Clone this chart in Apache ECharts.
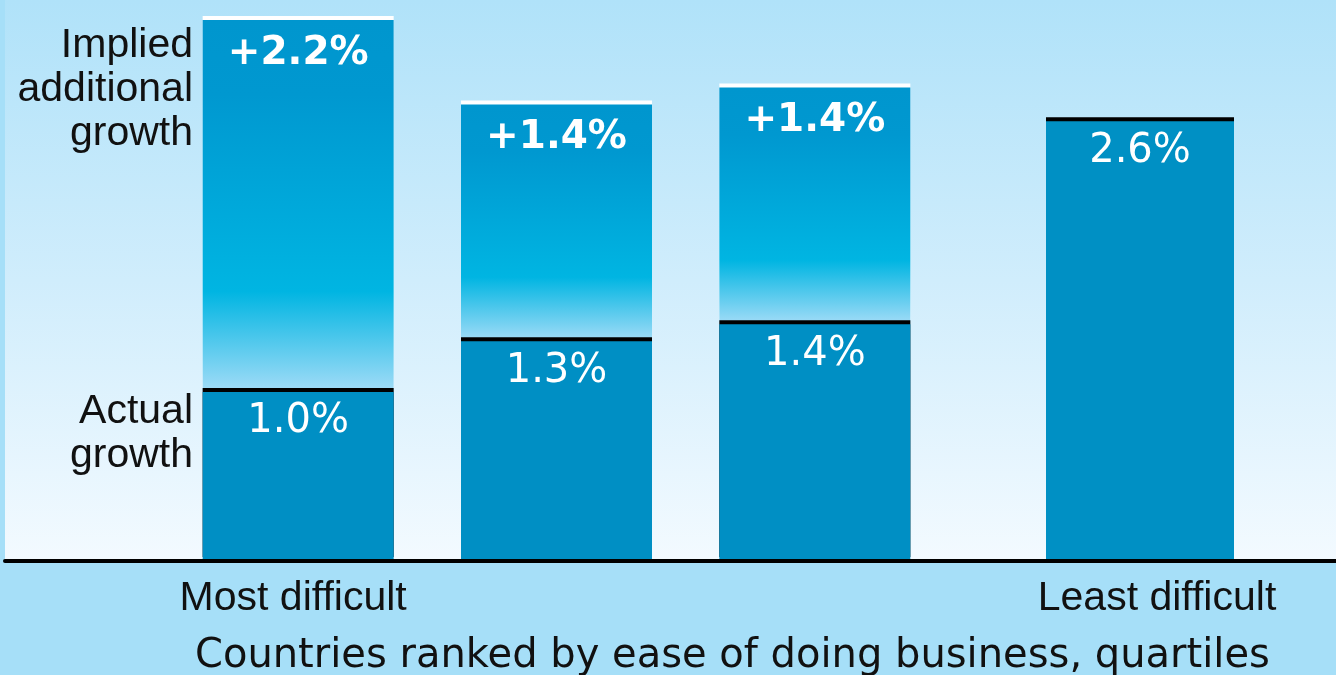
<!DOCTYPE html>
<html>
<head>
<meta charset="utf-8">
<script src="https://cdn.jsdelivr.net/npm/echarts@6/dist/echarts.min.js"></script>
<style>
html, body { margin: 0; padding: 0; background: #a6dff8; }
#chart { width: 1336px; height: 675px; }
</style>
</head>
<body>
<div id="chart"></div>
<script>
// quartiles, most difficult -> least difficult
var categories = ['Most difficult', '', '', 'Least difficult'];
var actualGrowth = [1.0, 1.3, 1.4, 2.6];
var impliedGrowth = [2.2, 1.4, 1.4];
var actualLabels = ['1.0%', '1.3%', '1.4%', '2.6%'];
var impliedLabels = ['+2.2%', '+1.4%', '+1.4%'];
var axisTitle = 'Countries ranked by ease of doing business, quartiles';

var echart = echarts.init(document.getElementById('chart'));

var impliedColor = new echarts.graphic.LinearGradient(0, 0, 0, 1, [
    {offset: 0, color: '#0096ce'},
    {offset: 0.2, color: '#0098d0'},
    {offset: 0.73, color: '#00b5e2'},
    {offset: 1, color: '#a2dcf7'}
]);

var plotBg = new echarts.graphic.LinearGradient(0, 0, 0, 1, [
    {offset: 0, color: '#b0e2f9'},
    {offset: 0.5, color: '#d0edfc'},
    {offset: 1, color: '#f3faff'}
]);

var numFont = 'DejaVu Sans';
var txtFont = 'Liberation Sans';

function yAx(i) {
    return {gridIndex: i, type: 'value', min: 0, max: 3.3, show: false};
}
function xCat(i, data, pad) {
    return {
        gridIndex: i, type: 'category', data: data,
        axisLine: {show: false}, axisTick: {show: false},
        axisLabel: {
            color: '#111', fontSize: 41, fontFamily: txtFont,
            margin: 17, padding: pad, interval: 0
        }
    };
}
// side notes, right aligned against the first bar
function sideNote(txt, y) {
    return {
        type: 'text', x: 193, y: y,
        style: {
            text: txt, align: 'right', textAlign: 'right', verticalAlign: 'top',
            fill: '#111', fontSize: 41, lineHeight: 44, fontFamily: txtFont
        }
    };
}

option = {
    animation: false,
    title: {
        text: axisTitle,
        left: 195, top: 637, padding: 0,
        textStyle: {color: '#111', fontSize: 40, fontWeight: 'normal', fontFamily: numFont}
    },
    grid: [
        // first three quartiles
        {left: 169, right: 392, top: 3, bottom: 114},
        // last quartile sits further right
        {left: 1010, right: 66, top: 3, bottom: 114},
        // background + baseline
        {left: 5, right: 0, top: 0, bottom: 114, show: true, backgroundColor: plotBg, borderWidth: 0}
    ],
    xAxis: [
        xCat(0, categories.slice(0, 3), [0, 10, 0, 0]),
        xCat(1, categories.slice(3), [0, 0, 0, 34]),
        {
            gridIndex: 2, type: 'category', data: [''], z: 5,
            axisLine: {show: true, lineStyle: {color: '#000', width: 4}},
            axisTick: {show: false}, axisLabel: {show: false}
        }
    ],
    yAxis: [yAx(0), yAx(1), yAx(2)],
    graphic: [
        sideNote('Implied\nadditional\ngrowth', 24),
        sideNote('Actual\ngrowth', 390)
    ],
    series: [
        {
            name: 'Actual growth', type: 'bar', stack: 'g',
            xAxisIndex: 0, yAxisIndex: 0, z: 3,
            barWidth: 191,
            data: actualGrowth.slice(0, 3),
            itemStyle: {color: '#008fc4', shadowColor: '#000', shadowBlur: 0, shadowOffsetY: -4},
            label: {
                show: true, position: 'insideTop', distance: 10,
                color: '#fff', fontSize: 40, fontFamily: numFont,
                formatter: function (p) { return actualLabels[p.dataIndex]; }
            }
        },
        {
            name: 'Implied additional growth', type: 'bar', stack: 'g',
            xAxisIndex: 0, yAxisIndex: 0, z: 2,
            barWidth: 191,
            data: impliedGrowth,
            itemStyle: {color: impliedColor, shadowColor: '#fff', shadowBlur: 0, shadowOffsetY: -4},
            label: {
                show: true, position: 'insideTop', distance: 14,
                color: '#fff', fontSize: 39, fontWeight: 'bold', fontFamily: numFont,
                formatter: function (p) { return impliedLabels[p.dataIndex]; }
            }
        },
        {
            name: 'Actual growth', type: 'bar',
            xAxisIndex: 1, yAxisIndex: 1, z: 3,
            barWidth: 188,
            data: actualGrowth.slice(3),
            itemStyle: {color: '#0090c4', shadowColor: '#000', shadowBlur: 0, shadowOffsetY: -4},
            label: {
                show: true, position: 'insideTop', distance: 10,
                color: '#fff', fontSize: 40, fontFamily: numFont,
                formatter: function (p) { return actualLabels[3 + p.dataIndex]; }
            }
        }
    ]
};

echart.setOption(option);
</script>
</body>
</html>
